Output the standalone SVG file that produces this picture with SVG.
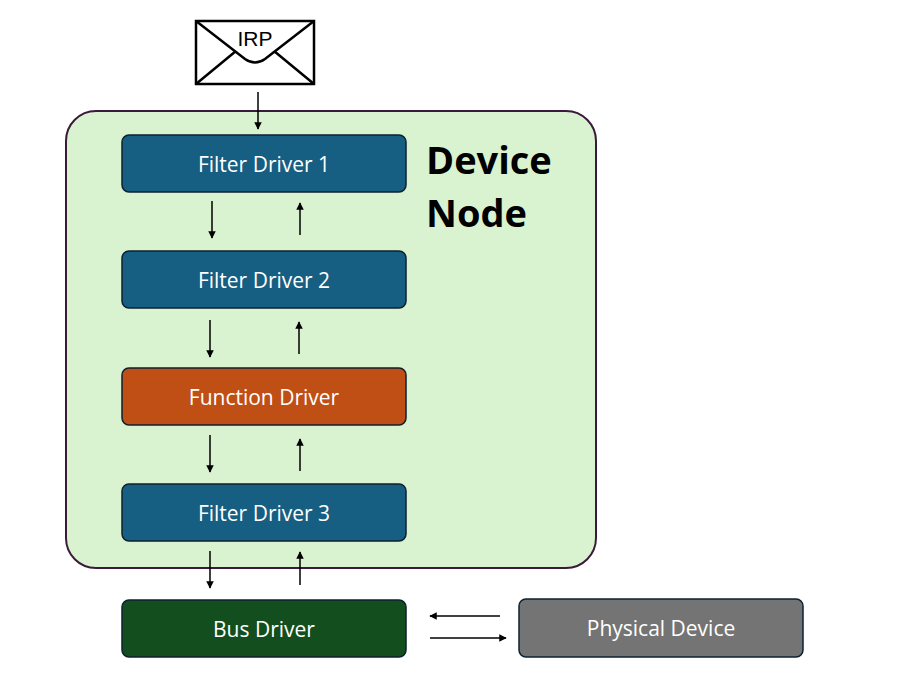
<svg xmlns="http://www.w3.org/2000/svg" width="921" height="680" viewBox="0 0 921 680">
<style>
.box{stroke:#0d2130;stroke-width:1.5}
.t{font-family:"Open Sans","Liberation Sans",sans-serif;font-size:21px;fill:#fff;text-anchor:middle;dominant-baseline:central}
.c{stroke:#000;stroke-width:1.5;fill:none;marker-end:url(#a)}
</style>
<defs><marker id="a" viewBox="0 0 10 10" refX="9" refY="5" markerWidth="5" markerHeight="5" orient="auto"><path d="M0,0L10,5L0,10z" fill="#000"/></marker></defs>
<rect width="921" height="680" fill="#fff"/>
<g id="device-node"><rect x="66" y="111" width="530" height="457" rx="30" fill="#d9f2d0" stroke="#3a1a3a" stroke-width="2"/>
<text x="426" y="174" font-family="Open Sans,Liberation Sans,sans-serif" font-size="38" font-weight="bold">Device</text>
<text x="426" y="227" font-family="Open Sans,Liberation Sans,sans-serif" font-size="38" font-weight="bold">Node</text></g>
<g id="irp"><rect x="196" y="21" width="118" height="63" fill="#fff" stroke="#000" stroke-width="2.5"/>
<path d="M196,21L245,59Q255,66 265,59L314,21M196,84L236,51M314,84L274,51" fill="none" stroke="#000" stroke-width="2.5"/>
<text x="255" y="38" font-family="Liberation Sans,sans-serif" font-size="21" text-anchor="middle" dominant-baseline="central">IRP</text></g>
<g id="fd1"><rect class="box" x="122" y="135" width="284" height="57" rx="7" fill="#165e82"/><text class="t" x="264" y="164">Filter Driver 1</text></g>
<g id="fd2"><rect class="box" x="122" y="251" width="284" height="57" rx="7" fill="#165e82"/><text class="t" x="264" y="280">Filter Driver 2</text></g>
<g id="fn"><rect class="box" x="122" y="368" width="284" height="57" rx="7" fill="#c04f15"/><text class="t" x="264" y="397">Function Driver</text></g>
<g id="fd3"><rect class="box" x="122" y="484" width="284" height="57" rx="7" fill="#165e82"/><text class="t" x="264" y="513">Filter Driver 3</text></g>
<g id="bus"><rect class="box" x="122" y="600" width="284" height="57" rx="7" fill="#134f1e"/><text class="t" x="264" y="629">Bus Driver</text></g>
<g id="phys"><rect class="box" x="519" y="599" width="284" height="58" rx="7" fill="#747474"/><text class="t" x="661" y="628">Physical Device</text></g>
<g id="connectors">
<path class="c" d="M258,92V129"/>
<path class="c" d="M212,201V238"/><path class="c" d="M300,235V203"/>
<path class="c" d="M210,320V357"/><path class="c" d="M299,354V322"/>
<path class="c" d="M210,435V472"/><path class="c" d="M300,471V439"/>
<path class="c" d="M210,551V588"/><path class="c" d="M300,585V552"/>
<path class="c" d="M500,616H430"/><path class="c" d="M430,638H506"/>
</g>
</svg>
